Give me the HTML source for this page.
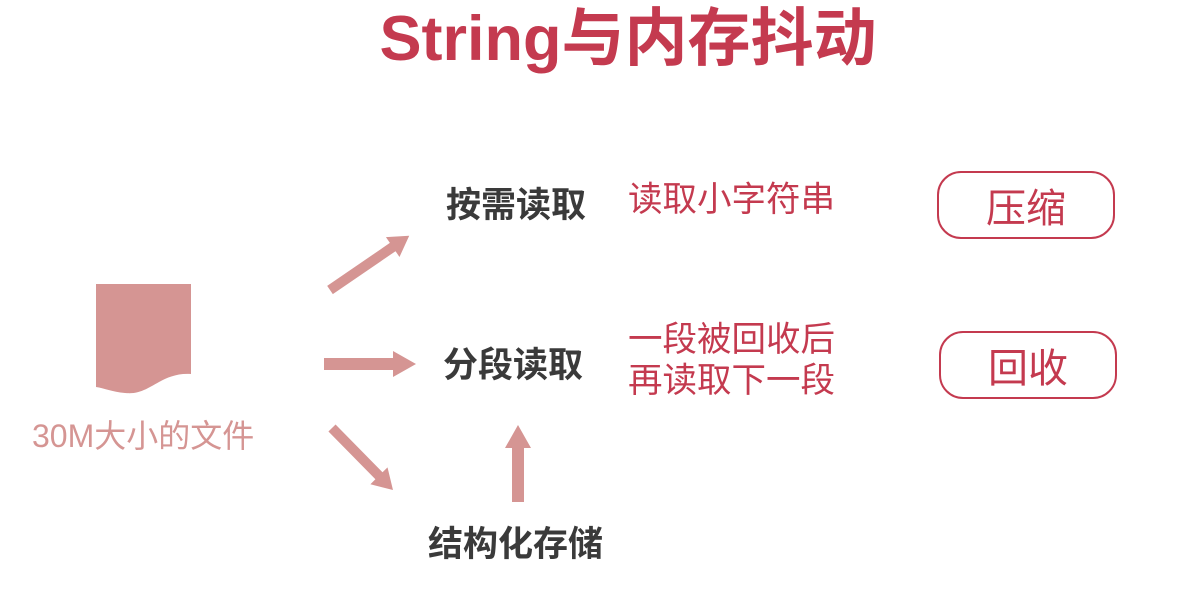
<!DOCTYPE html>
<html><head><meta charset="utf-8"><style>
body{margin:0;width:1196px;height:612px;background:#fff;position:relative;overflow:hidden;font-family:"Liberation Sans","Noto Sans CJK SC",sans-serif}
.t{position:absolute;white-space:nowrap;line-height:1}
.title{left:0;width:1196px;text-align:center;top:8px;font-size:63px;font-weight:bold;color:#c43a4f;padding-left:60px;box-sizing:border-box}
.b{font-size:35px;font-weight:bold;color:#3a3a3a}
.r{font-size:34.5px;color:#c43a4f}
.box{position:absolute;border:2.5px solid #c43a4f;border-radius:24px;box-sizing:border-box;display:flex;align-items:center;justify-content:center;font-size:40px;color:#c43a4f}
</style></head><body>
<div class="t title">String与内存抖动</div>
<svg width="1196" height="612" style="position:absolute;left:0;top:0">
<path d="M96 284 H191 V374 C160 372 150 396 125 393 C112 392 104 388 96 387 Z" fill="#d59593"/>
<g fill="#d59593" stroke="none">
<g transform="translate(330,290) rotate(-34.4)"><path d="M0 -5 H76 V-12 L96 0 L76 12 V5 H0 Z"/></g>
<path d="M324 358 H393 V351 L416 364 L393 377 V370 H324 Z"/>
<g transform="translate(332,428) rotate(45.5)"><path d="M0 -5 H67 V-12 L87 0 L67 12 V5 H0 Z"/></g>
<path d="M512 502 V448 H505 L518 425 L531 448 H524 V502 Z"/>
</g>
</svg>
<div class="t" style="left:32px;top:420px;font-size:32px;color:#d59593">30M大小的文件</div>
<div class="t b" style="left:446px;top:188px">按需读取</div>
<div class="t b" style="left:443px;top:348px">分段读取</div>
<div class="t b" style="left:428px;top:527px">结构化存储</div>
<div class="t r" style="left:628px;top:183px">读取小字符串</div>
<div class="t r" style="left:628px;top:323px">一段被回收后</div>
<div class="t r" style="left:628px;top:364px">再读取下一段</div>
<div class="box" style="left:937px;top:171px;width:178px;height:68px">压缩</div>
<div class="box" style="left:939px;top:331px;width:178px;height:68px">回收</div>
</body></html>
